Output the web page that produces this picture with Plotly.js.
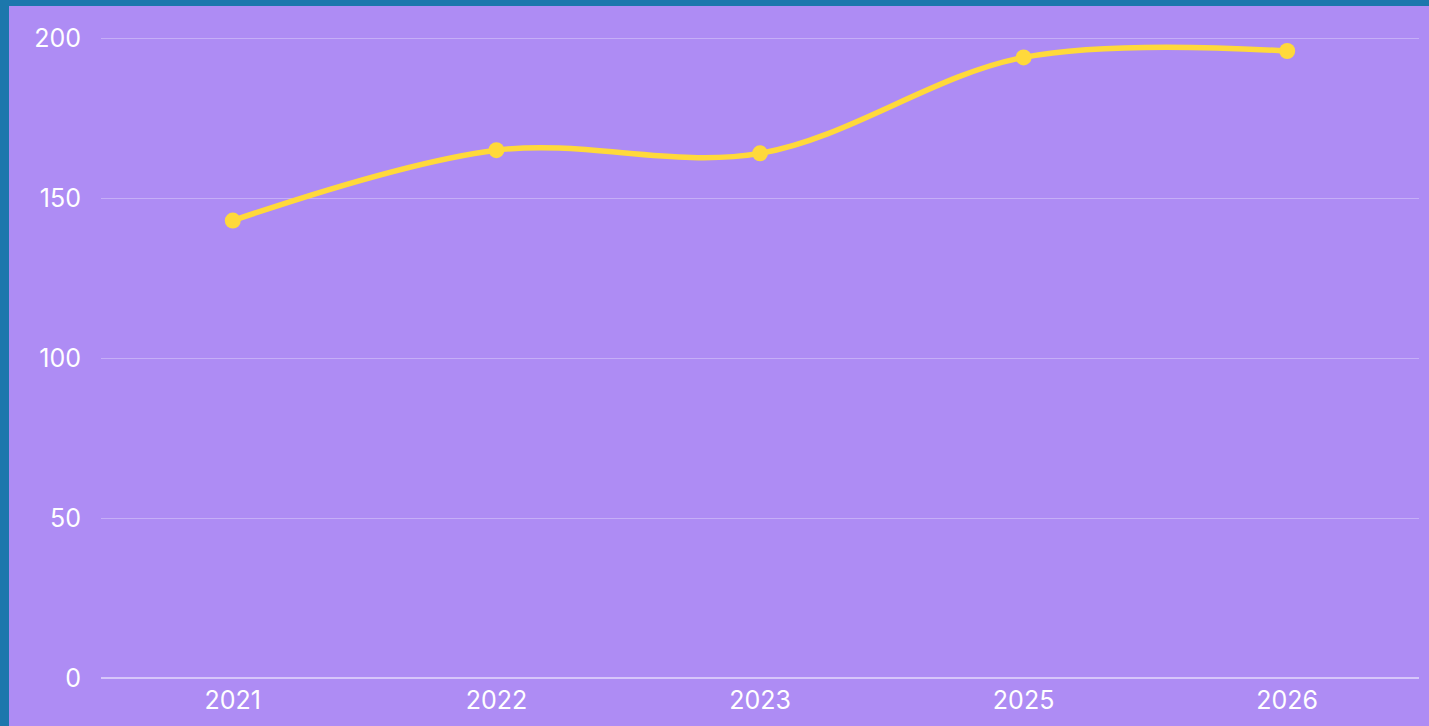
<!DOCTYPE html>
<html>
<head>
<meta charset="utf-8">
<script src="https://cdn.plot.ly/plotly-3.0.1.min.js"></script>
<style>
html,body{margin:0;padding:0;background:#1c77ac;width:1429px;height:726px;overflow:hidden;}
#chart{position:absolute;left:9px;top:6px;width:1420px;height:720px;}
</style>
</head>
<body>
<div id="chart"></div>
<script>
const years = ['2021', '2022', '2023', '2025', '2026'];
const values = [143, 165, 164, 194, 196];
const yTicks = [0, 50, 100, 150, 200];

Plotly.newPlot('chart', [{
  x: years,
  y: values,
  type: 'scatter',
  mode: 'lines+markers',
  line: {color: '#ffd93b', width: 5.5, shape: 'spline', smoothing: 1},
  marker: {color: '#ffd93b', size: 16},
  hoverinfo: 'x+y'
}], {
  width: 1420,
  height: 720,
  margin: {l: 92, r: 10, t: 29, b: 48},
  paper_bgcolor: '#ae8cf4',
  plot_bgcolor: '#ae8cf4',
  font: {family: 'Inter, sans-serif', size: 25, color: '#ffffff'},
  showlegend: false,
  xaxis: {
    type: 'category',
    range: [-0.5, 4.5],
    showgrid: false,
    zeroline: false,
    showline: false,
    ticks: '',
    ticklabelstandoff: 5,
    tickfont: {family: 'Inter, sans-serif', size: 25, color: '#ffffff'}
  },
  yaxis: {
    range: [0, 201],
    tickvals: yTicks,
    ticktext: yTicks.map(String),
    showgrid: true,
    gridcolor: 'rgba(255,255,255,0.3)',
    gridwidth: 1,
    zeroline: true,
    zerolinecolor: 'rgba(255,255,255,0.5)',
    zerolinewidth: 2,
    ticks: '',
    ticklabelstandoff: 19,
    tickfont: {family: 'Inter, sans-serif', size: 25, color: '#ffffff'}
  }
}, {displayModeBar: false});
</script>
</body>
</html>
